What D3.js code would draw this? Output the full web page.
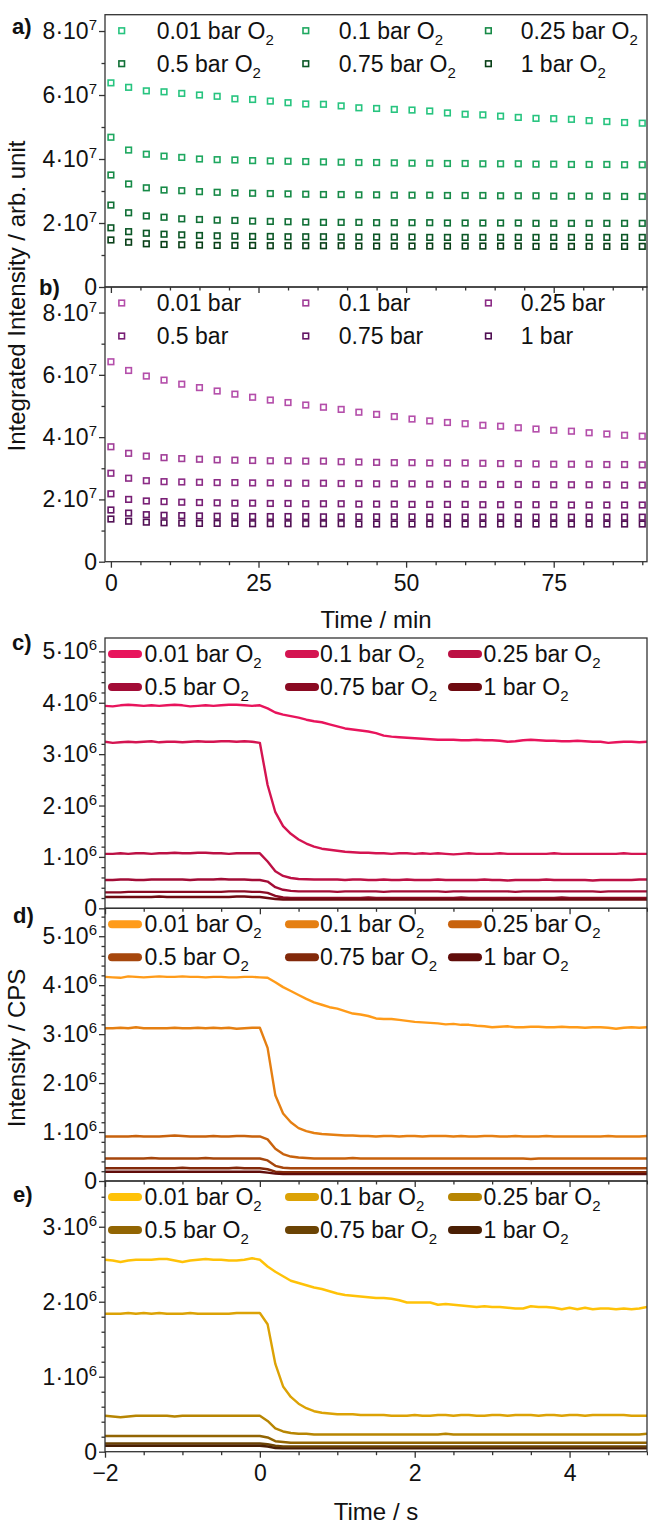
<!DOCTYPE html>
<html>
<head>
<meta charset="utf-8">
<script src="https://cdn.jsdelivr.net/npm/d3@7"></script>
<style>
body { margin: 0; background: #fff; }
svg { display: block; font-family: "Liberation Sans", Arial, sans-serif; }
</style>
</head>
<body>
<svg id="chart" width="648" height="1524"></svg>
<script>
// ---- data ----
// panels a, b: integrated intensity (x 1e7) vs time in minutes
var minutes = [0, 3, 6, 9, 12, 15, 18, 21, 24, 27, 30, 33, 36, 39, 42, 45, 48, 51, 54, 57, 60, 63, 66, 69, 72, 75, 78, 81, 84, 87, 90];
var pressuresO2 = ["0.01 bar", "0.1 bar", "0.25 bar", "0.5 bar", "0.75 bar", "1 bar"];

var a001 = [6.38, 6.24, 6.13, 6.10, 6.05, 6.00, 5.96, 5.88, 5.86, 5.81, 5.76, 5.72, 5.71, 5.66, 5.60, 5.58, 5.55, 5.53, 5.50, 5.44, 5.40, 5.38, 5.34, 5.30, 5.27, 5.26, 5.24, 5.20, 5.17, 5.14, 5.12];
var a01 = [4.68, 4.28, 4.15, 4.09, 4.05, 4.00, 3.98, 3.97, 3.95, 3.94, 3.93, 3.92, 3.91, 3.90, 3.89, 3.89, 3.88, 3.87, 3.87, 3.86, 3.86, 3.85, 3.85, 3.85, 3.84, 3.84, 3.83, 3.83, 3.83, 3.82, 3.82];
var a025 = [3.50, 3.22, 3.10, 3.03, 3.01, 2.98, 2.96, 2.94, 2.93, 2.92, 2.91, 2.90, 2.89, 2.89, 2.88, 2.88, 2.87, 2.87, 2.87, 2.86, 2.86, 2.86, 2.85, 2.85, 2.85, 2.84, 2.84, 2.84, 2.84, 2.83, 2.83];
var a05 = [2.56, 2.32, 2.22, 2.18, 2.13, 2.11, 2.09, 2.08, 2.06, 2.05, 2.04, 2.03, 2.02, 2.02, 2.02, 2.01, 2.01, 2.01, 2.01, 2.00, 2.00, 2.00, 2.00, 2.00, 1.99, 1.99, 1.99, 1.99, 1.99, 1.99, 1.99];
var a075 = [1.85, 1.73, 1.68, 1.65, 1.63, 1.61, 1.60, 1.59, 1.58, 1.58, 1.57, 1.57, 1.57, 1.56, 1.56, 1.56, 1.56, 1.56, 1.55, 1.55, 1.55, 1.55, 1.55, 1.55, 1.55, 1.55, 1.55, 1.55, 1.55, 1.55, 1.55];
var a1 = [1.47, 1.40, 1.35, 1.33, 1.32, 1.31, 1.30, 1.30, 1.30, 1.29, 1.29, 1.29, 1.29, 1.29, 1.28, 1.28, 1.28, 1.28, 1.28, 1.28, 1.28, 1.28, 1.28, 1.28, 1.27, 1.27, 1.27, 1.27, 1.27, 1.27, 1.27];

var b001 = [6.42, 6.14, 5.96, 5.83, 5.70, 5.59, 5.48, 5.38, 5.28, 5.19, 5.11, 5.03, 4.96, 4.89, 4.80, 4.73, 4.66, 4.58, 4.52, 4.47, 4.43, 4.38, 4.35, 4.30, 4.26, 4.22, 4.19, 4.14, 4.10, 4.06, 4.03];
var b01 = [3.69, 3.48, 3.39, 3.34, 3.31, 3.29, 3.27, 3.26, 3.25, 3.24, 3.24, 3.23, 3.23, 3.21, 3.20, 3.19, 3.18, 3.18, 3.17, 3.17, 3.17, 3.16, 3.15, 3.15, 3.14, 3.13, 3.13, 3.13, 3.12, 3.12, 3.11];
var b025 = [2.84, 2.68, 2.60, 2.57, 2.56, 2.55, 2.54, 2.54, 2.53, 2.53, 2.52, 2.52, 2.52, 2.51, 2.51, 2.50, 2.50, 2.50, 2.49, 2.49, 2.49, 2.48, 2.48, 2.48, 2.48, 2.47, 2.47, 2.47, 2.47, 2.46, 2.46];
var b05 = [2.18, 2.00, 1.95, 1.93, 1.91, 1.90, 1.89, 1.88, 1.88, 1.87, 1.87, 1.86, 1.86, 1.86, 1.85, 1.85, 1.85, 1.84, 1.84, 1.84, 1.84, 1.83, 1.83, 1.83, 1.83, 1.83, 1.82, 1.82, 1.82, 1.82, 1.82];
var b075 = [1.66, 1.56, 1.51, 1.49, 1.48, 1.47, 1.46, 1.46, 1.45, 1.45, 1.45, 1.45, 1.44, 1.44, 1.44, 1.44, 1.44, 1.44, 1.43, 1.43, 1.43, 1.43, 1.43, 1.43, 1.43, 1.43, 1.43, 1.43, 1.43, 1.43, 1.43];
var b1 = [1.37, 1.30, 1.27, 1.25, 1.24, 1.23, 1.23, 1.23, 1.22, 1.22, 1.22, 1.22, 1.22, 1.22, 1.21, 1.21, 1.21, 1.21, 1.21, 1.21, 1.21, 1.21, 1.21, 1.21, 1.21, 1.21, 1.21, 1.21, 1.21, 1.21, 1.21];

// panels c, d, e: intensity (x 1e6 CPS) vs time in seconds
var seconds = [-2.0, -1.9, -1.8, -1.7, -1.6, -1.5, -1.4, -1.3, -1.2, -1.1, -1.0, -0.9, -0.8, -0.7, -0.6, -0.5, -0.4, -0.3, -0.2, -0.1,
  0.0, 0.1, 0.2, 0.3, 0.4, 0.5, 0.6, 0.7, 0.8, 0.9, 1.0, 1.1, 1.2, 1.3, 1.4, 1.5, 1.6, 1.7, 1.8, 1.9,
  2.0, 2.1, 2.2, 2.3, 2.4, 2.5, 2.6, 2.7, 2.8, 2.9, 3.0, 3.1, 3.2, 3.3, 3.4, 3.5, 3.6, 3.7, 3.8, 3.9,
  4.0, 4.1, 4.2, 4.3, 4.4, 4.5, 4.6, 4.7, 4.8, 4.9, 5.0];

var c001 = [3.94, 3.93, 3.95, 3.96, 3.95, 3.94, 3.95, 3.94, 3.95, 3.96, 3.95, 3.93, 3.94, 3.95, 3.94, 3.95, 3.96, 3.96, 3.95, 3.94,
  3.95, 3.89, 3.81, 3.77, 3.74, 3.71, 3.67, 3.64, 3.62, 3.58,
  3.54, 3.50, 3.48, 3.46, 3.44, 3.41, 3.36, 3.34, 3.33, 3.32,
  3.31, 3.30, 3.29, 3.28, 3.28, 3.28, 3.27, 3.27, 3.28, 3.27,
  3.27, 3.26, 3.24, 3.25, 3.27, 3.28, 3.27, 3.26, 3.26, 3.25,
  3.25, 3.26, 3.25, 3.24, 3.24, 3.22, 3.23, 3.24, 3.24, 3.23,
  3.24];
var c01 = [3.24, 3.22, 3.23, 3.24, 3.23, 3.24, 3.25, 3.23, 3.24, 3.24, 3.23, 3.24, 3.25, 3.24, 3.24, 3.25, 3.25, 3.24, 3.25, 3.24,
  3.22, 2.40, 1.87, 1.60, 1.45, 1.34, 1.26, 1.20, 1.16, 1.14,
  1.12, 1.10, 1.09, 1.08, 1.08, 1.07, 1.07, 1.06, 1.07, 1.07,
  1.06, 1.07, 1.06, 1.07, 1.06, 1.05, 1.06, 1.07, 1.06, 1.06,
  1.06, 1.07, 1.06, 1.06, 1.06, 1.06, 1.06, 1.06, 1.07, 1.06,
  1.06, 1.06, 1.06, 1.06, 1.06, 1.06, 1.06, 1.07, 1.06, 1.06,
  1.06];
var c025 = [1.06, 1.06, 1.07, 1.06, 1.07, 1.07, 1.06, 1.07, 1.07, 1.08, 1.07, 1.07, 1.08, 1.08, 1.07, 1.07, 1.06, 1.07, 1.07, 1.07,
  1.07, 0.91, 0.72, 0.63, 0.59, 0.57, 0.565, 0.56, 0.56, 0.56,
  0.56, 0.55, 0.56, 0.56, 0.55, 0.55, 0.56, 0.55, 0.55, 0.56,
  0.55, 0.55, 0.55, 0.56, 0.55, 0.55, 0.55, 0.55, 0.55, 0.56,
  0.55, 0.55, 0.54, 0.55, 0.55, 0.55, 0.55, 0.56, 0.55, 0.55,
  0.55, 0.55, 0.55, 0.54, 0.55, 0.55, 0.55, 0.55, 0.55, 0.56,
  0.56];
var c05 = [0.55, 0.55, 0.56, 0.56, 0.55, 0.55, 0.56, 0.56, 0.56, 0.56, 0.56, 0.55, 0.56, 0.56, 0.56, 0.57, 0.56, 0.56, 0.56, 0.55,
  0.55, 0.52, 0.41, 0.36, 0.34, 0.33, 0.33, 0.33, 0.33, 0.33,
  0.32, 0.33, 0.33, 0.33, 0.33, 0.33, 0.32, 0.33, 0.33, 0.33,
  0.33, 0.33, 0.33, 0.33, 0.32, 0.33, 0.33, 0.33, 0.33, 0.33,
  0.33, 0.33, 0.33, 0.32, 0.33, 0.33, 0.33, 0.33, 0.33, 0.33,
  0.33, 0.33, 0.33, 0.33, 0.32, 0.33, 0.33, 0.33, 0.33, 0.33,
  0.33];
var c075 = [0.31, 0.31, 0.31, 0.32, 0.32, 0.32, 0.32, 0.32, 0.32, 0.32, 0.32, 0.32, 0.32, 0.32, 0.32, 0.32, 0.33, 0.33, 0.33, 0.32,
  0.32, 0.30, 0.24, 0.21, 0.20, 0.20, 0.20, 0.20, 0.20, 0.20,
  0.20, 0.20, 0.20, 0.20, 0.21, 0.20, 0.20, 0.20, 0.20, 0.20,
  0.20, 0.20, 0.20, 0.20, 0.20, 0.20, 0.21, 0.20, 0.20, 0.20,
  0.20, 0.20, 0.20, 0.20, 0.20, 0.20, 0.20, 0.20, 0.20, 0.21,
  0.20, 0.20, 0.20, 0.20, 0.20, 0.20, 0.20, 0.20, 0.20, 0.20,
  0.20];
var c1 = [0.22, 0.22, 0.22, 0.22, 0.22, 0.22, 0.22, 0.23, 0.22, 0.22, 0.22, 0.22, 0.22, 0.22, 0.22, 0.22, 0.22, 0.23, 0.23, 0.22,
  0.22, 0.20, 0.18, 0.17, 0.17, 0.17, 0.17, 0.17, 0.17, 0.17,
  0.17, 0.17, 0.17, 0.17, 0.17, 0.17, 0.17, 0.17, 0.17, 0.17,
  0.17, 0.17, 0.17, 0.17, 0.17, 0.17, 0.17, 0.17, 0.17, 0.17,
  0.17, 0.17, 0.17, 0.17, 0.17, 0.17, 0.17, 0.17, 0.17, 0.17,
  0.17, 0.17, 0.17, 0.17, 0.17, 0.17, 0.17, 0.17, 0.17, 0.17,
  0.17];

var d001 = [4.17, 4.16, 4.15, 4.18, 4.17, 4.16, 4.17, 4.18, 4.17, 4.17, 4.18, 4.17, 4.17, 4.16, 4.17, 4.17, 4.16, 4.16, 4.17, 4.17,
  4.16, 4.15, 4.06, 3.96, 3.88, 3.80, 3.72, 3.65, 3.60, 3.55,
  3.52, 3.47, 3.42, 3.40, 3.37, 3.32, 3.31, 3.31, 3.29, 3.27,
  3.25, 3.24, 3.23, 3.22, 3.20, 3.21, 3.19, 3.19, 3.17, 3.16,
  3.14, 3.15, 3.16, 3.14, 3.14, 3.15, 3.15, 3.14, 3.14, 3.15,
  3.14, 3.14, 3.13, 3.14, 3.14, 3.13, 3.11, 3.13, 3.14, 3.13,
  3.14];
var d01 = [3.12, 3.12, 3.13, 3.12, 3.14, 3.12, 3.12, 3.12, 3.12, 3.13, 3.12, 3.12, 3.13, 3.12, 3.13, 3.12, 3.13, 3.11, 3.12, 3.13,
  3.13, 2.72, 1.75, 1.38, 1.20, 1.08, 1.02, 0.98, 0.96, 0.95,
  0.94, 0.93, 0.93, 0.92, 0.92, 0.91, 0.92, 0.92, 0.91, 0.92,
  0.92, 0.91, 0.92, 0.92, 0.92, 0.91, 0.92, 0.91, 0.91, 0.92,
  0.92, 0.91, 0.91, 0.92, 0.91, 0.91, 0.91, 0.92, 0.91, 0.91,
  0.91, 0.91, 0.91, 0.91, 0.91, 0.92, 0.91, 0.91, 0.91, 0.91,
  0.92];
var d025 = [0.91, 0.91, 0.91, 0.91, 0.92, 0.91, 0.91, 0.91, 0.92, 0.93, 0.92, 0.91, 0.91, 0.91, 0.92, 0.91, 0.91, 0.92, 0.92, 0.91,
  0.91, 0.85, 0.66, 0.55, 0.50, 0.48, 0.47, 0.46, 0.46, 0.46,
  0.46, 0.46, 0.47, 0.46, 0.46, 0.46, 0.46, 0.46, 0.46, 0.46,
  0.46, 0.46, 0.46, 0.46, 0.46, 0.46, 0.46, 0.46, 0.46, 0.46,
  0.46, 0.46, 0.46, 0.46, 0.46, 0.45, 0.46, 0.46, 0.46, 0.46,
  0.46, 0.46, 0.46, 0.46, 0.46, 0.46, 0.46, 0.46, 0.46, 0.46,
  0.46];
var d05 = [0.46, 0.46, 0.46, 0.46, 0.46, 0.46, 0.47, 0.46, 0.46, 0.46, 0.46, 0.46, 0.46, 0.47, 0.46, 0.46, 0.46, 0.46, 0.46, 0.46,
  0.46, 0.42, 0.31, 0.27, 0.26, 0.26, 0.26, 0.26, 0.26, 0.26,
  0.26, 0.26, 0.26, 0.26, 0.26, 0.26, 0.26, 0.26, 0.26, 0.26,
  0.26, 0.26, 0.26, 0.26, 0.26, 0.26, 0.26, 0.26, 0.26, 0.26,
  0.26, 0.26, 0.26, 0.26, 0.26, 0.26, 0.26, 0.26, 0.26, 0.26,
  0.26, 0.26, 0.26, 0.26, 0.26, 0.26, 0.26, 0.26, 0.26, 0.26,
  0.26];
var d075 = [0.26, 0.26, 0.26, 0.26, 0.26, 0.26, 0.26, 0.26, 0.26, 0.26, 0.27, 0.26, 0.26, 0.26, 0.26, 0.26, 0.26, 0.27, 0.26, 0.26,
  0.26, 0.24, 0.19, 0.18, 0.18, 0.18, 0.18, 0.18, 0.18, 0.18,
  0.18, 0.18, 0.18, 0.18, 0.18, 0.18, 0.18, 0.18, 0.18, 0.18,
  0.18, 0.18, 0.18, 0.18, 0.18, 0.18, 0.18, 0.18, 0.18, 0.18,
  0.18, 0.18, 0.18, 0.18, 0.18, 0.18, 0.18, 0.18, 0.18, 0.18,
  0.18, 0.18, 0.18, 0.18, 0.18, 0.18, 0.18, 0.18, 0.18, 0.18,
  0.18];
var d1 = [0.19, 0.19, 0.19, 0.19, 0.19, 0.19, 0.19, 0.19, 0.19, 0.19, 0.19, 0.19, 0.19, 0.19, 0.19, 0.19, 0.19, 0.19, 0.19, 0.19,
  0.19, 0.17, 0.15, 0.14, 0.14, 0.14, 0.14, 0.14, 0.14, 0.14,
  0.14, 0.14, 0.14, 0.14, 0.14, 0.14, 0.14, 0.14, 0.14, 0.14,
  0.14, 0.14, 0.14, 0.14, 0.14, 0.14, 0.14, 0.14, 0.14, 0.14,
  0.14, 0.14, 0.14, 0.14, 0.14, 0.14, 0.14, 0.14, 0.14, 0.14,
  0.14, 0.14, 0.14, 0.14, 0.14, 0.14, 0.14, 0.14, 0.14, 0.14,
  0.14];

var e001 = [2.56, 2.55, 2.53, 2.55, 2.56, 2.56, 2.56, 2.57, 2.57, 2.55, 2.53, 2.55, 2.56, 2.57, 2.56, 2.56, 2.55, 2.55, 2.56, 2.58,
  2.56, 2.47, 2.40, 2.34, 2.28, 2.25, 2.22, 2.19, 2.17, 2.14,
  2.11, 2.09, 2.08, 2.07, 2.06, 2.05, 2.05, 2.04, 2.02, 1.99,
  1.99, 1.99, 1.99, 1.96, 1.97, 1.96, 1.95, 1.94, 1.93, 1.94,
  1.93, 1.93, 1.92, 1.91, 1.91, 1.94, 1.93, 1.93, 1.92, 1.90,
  1.92, 1.90, 1.92, 1.90, 1.91, 1.91, 1.90, 1.91, 1.90, 1.91,
  1.93];
var e01 = [1.84, 1.84, 1.84, 1.85, 1.84, 1.85, 1.84, 1.85, 1.84, 1.84, 1.84, 1.85, 1.84, 1.84, 1.84, 1.84, 1.84, 1.85, 1.85, 1.85,
  1.85, 1.70, 1.17, 0.87, 0.73, 0.64, 0.58, 0.54, 0.52, 0.51,
  0.50, 0.50, 0.50, 0.49, 0.49, 0.49, 0.49, 0.48, 0.48, 0.48,
  0.49, 0.48, 0.48, 0.49, 0.49, 0.48, 0.49, 0.49, 0.48, 0.48,
  0.49, 0.49, 0.48, 0.49, 0.49, 0.49, 0.48, 0.49, 0.49, 0.48,
  0.49, 0.49, 0.48, 0.49, 0.49, 0.49, 0.49, 0.49, 0.48, 0.48,
  0.48];
var e025 = [0.48, 0.47, 0.46, 0.47, 0.48, 0.48, 0.48, 0.48, 0.48, 0.47, 0.48, 0.48, 0.48, 0.48, 0.48, 0.48, 0.48, 0.48, 0.48, 0.48,
  0.48, 0.41, 0.31, 0.27, 0.25, 0.24, 0.24, 0.23, 0.23, 0.23,
  0.23, 0.23, 0.23, 0.23, 0.23, 0.23, 0.23, 0.23, 0.23, 0.23,
  0.23, 0.23, 0.23, 0.23, 0.24, 0.23, 0.23, 0.23, 0.23, 0.23,
  0.23, 0.23, 0.23, 0.23, 0.23, 0.23, 0.23, 0.23, 0.23, 0.23,
  0.23, 0.23, 0.23, 0.23, 0.23, 0.23, 0.23, 0.23, 0.23, 0.23,
  0.24];
var e05 = [0.21, 0.21, 0.21, 0.21, 0.21, 0.21, 0.21, 0.21, 0.21, 0.21, 0.21, 0.21, 0.21, 0.21, 0.21, 0.21, 0.21, 0.21, 0.21, 0.21,
  0.21, 0.19, 0.14, 0.13, 0.12, 0.12, 0.12, 0.12, 0.12, 0.12,
  0.12, 0.12, 0.12, 0.12, 0.12, 0.12, 0.12, 0.12, 0.12, 0.12,
  0.12, 0.12, 0.12, 0.12, 0.12, 0.12, 0.12, 0.12, 0.12, 0.12,
  0.12, 0.12, 0.12, 0.12, 0.12, 0.12, 0.12, 0.12, 0.12, 0.12,
  0.12, 0.12, 0.12, 0.12, 0.12, 0.12, 0.12, 0.12, 0.12, 0.12,
  0.12];
var e075 = [0.11, 0.11, 0.11, 0.11, 0.11, 0.11, 0.11, 0.11, 0.11, 0.11, 0.11, 0.11, 0.11, 0.11, 0.11, 0.11, 0.11, 0.11, 0.11, 0.11,
  0.11, 0.10, 0.08, 0.07, 0.07, 0.07, 0.07, 0.07, 0.07, 0.07,
  0.07, 0.07, 0.07, 0.07, 0.07, 0.07, 0.07, 0.07, 0.07, 0.07,
  0.07, 0.07, 0.07, 0.07, 0.07, 0.07, 0.07, 0.07, 0.07, 0.07,
  0.07, 0.07, 0.07, 0.07, 0.07, 0.07, 0.07, 0.07, 0.07, 0.07,
  0.07, 0.07, 0.07, 0.07, 0.07, 0.07, 0.07, 0.07, 0.07, 0.07,
  0.07];
var e1 = [0.08, 0.08, 0.08, 0.08, 0.08, 0.08, 0.08, 0.08, 0.08, 0.08, 0.08, 0.08, 0.08, 0.08, 0.08, 0.08, 0.08, 0.08, 0.08, 0.08,
  0.08, 0.07, 0.05, 0.045, 0.045, 0.045, 0.045, 0.045, 0.045, 0.045,
  0.045, 0.045, 0.045, 0.045, 0.045, 0.045, 0.045, 0.045, 0.045, 0.045,
  0.045, 0.045, 0.045, 0.045, 0.045, 0.045, 0.045, 0.045, 0.045, 0.045,
  0.045, 0.045, 0.045, 0.045, 0.045, 0.045, 0.045, 0.045, 0.045, 0.045,
  0.045, 0.045, 0.045, 0.045, 0.045, 0.045, 0.045, 0.045, 0.045, 0.045,
  0.045];

// colours per panel, 0.01 bar -> 1 bar
var greens = ["#27c47f", "#1fa860", "#178a47", "#107036", "#0b5726", "#083f17"];
var purples = ["#b44eaa", "#a13e98", "#8c2c86", "#781f75", "#631665", "#500f53"];
var reds = ["#e8145c", "#d41451", "#bc1044", "#a20c36", "#8a0a22", "#6e0a10"];
var oranges = ["#ff9b19", "#e57f12", "#c8620d", "#a6470d", "#82290a", "#600c0a"];
var yellows = ["#ffc208", "#dca205", "#b78502", "#926503", "#6b4304", "#4a1f04"];

// ---- drawing ----
var svg = d3.select("#chart");
var plotLeft = 105, plotRight = 647;
var axisColor = "#333";

// text with a raised or lowered small part, e.g. 8·10^7 or O_2
function richText(g, x, y, parts, anchor, size) {
    var t = g.append("text")
        .attr("x", x).attr("y", y)
        .attr("text-anchor", anchor)
        .style("font-size", size + "px")
        .attr("fill", "#111");
    parts.forEach(function(p) {
        var s = t.append("tspan").text(p.text);
        if (p.shift) {
            s.attr("dy", p.shift).style("font-size", Math.round(size * 0.64) + "px");
        }
    });
    return t;
}

function drawPanel(p, idx) {
    var x = d3.scaleLinear().domain(p.xDomain).range([plotLeft, plotRight]);
    var y = d3.scaleLinear().domain([0, p.yMax]).range([p.bottom, p.top]);
    var g = svg.append("g");

    g.append("clipPath").attr("id", "clip" + idx)
        .append("rect")
        .attr("x", plotLeft).attr("y", p.top)
        .attr("width", plotRight - plotLeft).attr("height", p.bottom - p.top);
    var plot = g.append("g").attr("clip-path", "url(#clip" + idx + ")");

    p.series.forEach(function(s, i) {
        var pts = p.xs.map(function(t, k) { return [t, s[k]]; });
        if (p.kind == "scatter") {
            plot.selectAll(".m" + i)
                .data(pts)
                .enter().append("rect")
                .attr("x", function(d) { return x(d[0]) - 2.8; })
                .attr("y", function(d) { return y(d[1]) - 2.8; })
                .attr("width", 5.6).attr("height", 5.6)
                .attr("fill", "#fff")
                .attr("stroke", p.colors[i])
                .attr("stroke-width", 1.6);
        } else {
            plot.append("path")
                .datum(pts)
                .attr("fill", "none")
                .attr("stroke", p.colors[i])
                .attr("stroke-width", 2.4)
                .attr("stroke-linejoin", "round")
                .attr("d", d3.line().x(function(d) { return x(d[0]); }).y(function(d) { return y(d[1]); }));
        }
    });

    // frame
    g.append("rect")
        .attr("x", plotLeft).attr("y", p.top)
        .attr("width", plotRight - plotLeft).attr("height", p.bottom - p.top)
        .attr("fill", "none").attr("stroke", axisColor).attr("stroke-width", 1.3);

    // y axis: major and minor ticks, labels drawn separately for the superscripts
    var yMajor = g.append("g").attr("transform", "translate(" + plotLeft + ",0)")
        .call(d3.axisLeft(y).tickValues(p.yTicks).tickSize(6).tickFormat(""));
    var yMinor = g.append("g").attr("transform", "translate(" + plotLeft + ",0)")
        .call(d3.axisLeft(y).tickValues(p.yMinor).tickSize(3.5).tickFormat(""));
    // x axis
    var xMajor = g.append("g").attr("transform", "translate(0," + p.bottom + ")")
        .call(d3.axisBottom(x).tickValues(p.xTicks).tickSize(6).tickPadding(7)
            .tickFormat(p.xLabels ? d3.format("d") : ""));
    var xMinor = g.append("g").attr("transform", "translate(0," + p.bottom + ")")
        .call(d3.axisBottom(x).tickValues(p.xMinor).tickSize(3.5).tickFormat(""));
    [yMajor, yMinor, xMajor, xMinor].forEach(function(a) {
        a.select(".domain").remove();
        a.selectAll("line").attr("stroke", axisColor).attr("stroke-width", 1.3);
        a.selectAll("text").style("font-size", "23px").attr("fill", "#111")
            .style("font-family", "'Liberation Sans', Arial, sans-serif");
    });

    p.yTicks.forEach(function(v) {
        var parts = v == 0 ? [{ text: "0" }] : [{ text: v + "\u00b710" }, { text: p.exp, shift: -9 }];
        richText(g, 97, y(v) + 8, parts, "end", 23);
    });

    // legend, 3 columns x 2 rows
    p.names.forEach(function(name, i) {
        var col = i % 3, row = Math.floor(i / 3);
        var cy = p.top + 16 + row * 33;
        var tx;
        if (p.kind == "scatter") {
            var sx = [121.7, 305.8, 488.4][col];
            g.append("rect")
                .attr("x", sx - 2.8).attr("y", cy - 2.8)
                .attr("width", 5.6).attr("height", 5.6)
                .attr("fill", "#fff").attr("stroke", p.colors[i]).attr("stroke-width", 1.6);
            tx = [156.7, 338.8, 520.7][col];
        } else {
            var lx = [112, 289, 452][col];
            g.append("line")
                .attr("x1", lx).attr("x2", lx + 26)
                .attr("y1", cy).attr("y2", cy)
                .attr("stroke", p.colors[i]).attr("stroke-width", 8)
                .attr("stroke-linecap", "round");
            tx = [144.6, 320, 483.5][col];
        }
        var parts = p.withO2 ? [{ text: name + " O" }, { text: "2", shift: 6 }] : [{ text: name }];
        richText(g, tx, cy + 8, parts, "start", 23);
    });

    // panel letter
    g.append("text")
        .attr("x", p.letterX).attr("y", p.letterY)
        .style("font-size", "22px").style("font-weight", "bold")
        .attr("fill", "#111")
        .text(p.letter);
}

var minTicks = [0, 25, 50, 75];
var minMinor = [5, 10, 15, 20, 30, 35, 40, 45, 55, 60, 65, 70, 80, 85, 90];
var secTicks = [-2, 0, 2, 4];
var secMinor = [-1.5, -1, -0.5, 0.5, 1, 1.5, 2.5, 3, 3.5, 4.5, 5];
function minorOf(max) {
    return d3.range(0.2, max, 0.2).filter(function(v) { return Math.abs(v - Math.round(v)) > 0.01; });
}

var panels = [
    { letter: "a)", letterX: 12, letterY: 34, top: 14.7, bottom: 287, yMax: 8.51, exp: "7",
      yTicks: [0, 2, 4, 6, 8], yMinor: [1, 3, 5, 7],
      xDomain: [-1, 90.8], xTicks: minTicks, xMinor: minMinor, xLabels: false,
      kind: "scatter", xs: minutes, series: [a001, a01, a025, a05, a075, a1], colors: greens,
      names: pressuresO2, withO2: true },
    { letter: "b)", letterX: 39, letterY: 295, top: 287, bottom: 561.7, yMax: 8.82, exp: "7",
      yTicks: [0, 2, 4, 6, 8], yMinor: [1, 3, 5, 7],
      xDomain: [-1, 90.8], xTicks: minTicks, xMinor: minMinor, xLabels: true,
      kind: "scatter", xs: minutes, series: [b001, b01, b025, b05, b075, b1], colors: purples,
      names: pressuresO2, withO2: false },
    { letter: "c)", letterX: 12, letterY: 650, top: 638, bottom: 908.3, yMax: 5.26, exp: "6",
      yTicks: [0, 1, 2, 3, 4, 5], yMinor: minorOf(5.2),
      xDomain: [-2, 5], xTicks: secTicks, xMinor: secMinor, xLabels: false,
      kind: "line", xs: seconds, series: [c001, c01, c025, c05, c075, c1], colors: reds,
      names: pressuresO2, withO2: true },
    { letter: "d)", letterX: 13, letterY: 923, top: 908.3, bottom: 1181, yMax: 5.57, exp: "6",
      yTicks: [0, 1, 2, 3, 4, 5], yMinor: minorOf(5.6),
      xDomain: [-2, 5], xTicks: secTicks, xMinor: secMinor, xLabels: false,
      kind: "line", xs: seconds, series: [d001, d01, d025, d05, d075, d1], colors: oranges,
      names: pressuresO2, withO2: true },
    { letter: "e)", letterX: 13, letterY: 1202, top: 1181, bottom: 1451.7, yMax: 3.61, exp: "6",
      yTicks: [0, 1, 2, 3], yMinor: minorOf(3.6),
      xDomain: [-2, 5], xTicks: secTicks, xMinor: secMinor, xLabels: true,
      kind: "line", xs: seconds, series: [e001, e01, e025, e05, e075, e1], colors: yellows,
      names: pressuresO2, withO2: true }
];

panels.forEach(function(p, i) { drawPanel(p, i); });

// axis titles
svg.append("text")
    .attr("transform", "translate(25,296) rotate(-90)")
    .attr("text-anchor", "middle")
    .style("font-size", "24px").attr("fill", "#111")
    .text("Integrated Intensity / arb. unit");
svg.append("text")
    .attr("transform", "translate(25,1048) rotate(-90)")
    .attr("text-anchor", "middle")
    .style("font-size", "24px").attr("fill", "#111")
    .text("Intensity / CPS");
svg.append("text")
    .attr("x", 376).attr("y", 628)
    .attr("text-anchor", "middle")
    .style("font-size", "24px").attr("fill", "#111")
    .text("Time / min");
svg.append("text")
    .attr("x", 376).attr("y", 1520)
    .attr("text-anchor", "middle")
    .style("font-size", "24px").attr("fill", "#111")
    .text("Time / s");
</script>
</body>
</html>
